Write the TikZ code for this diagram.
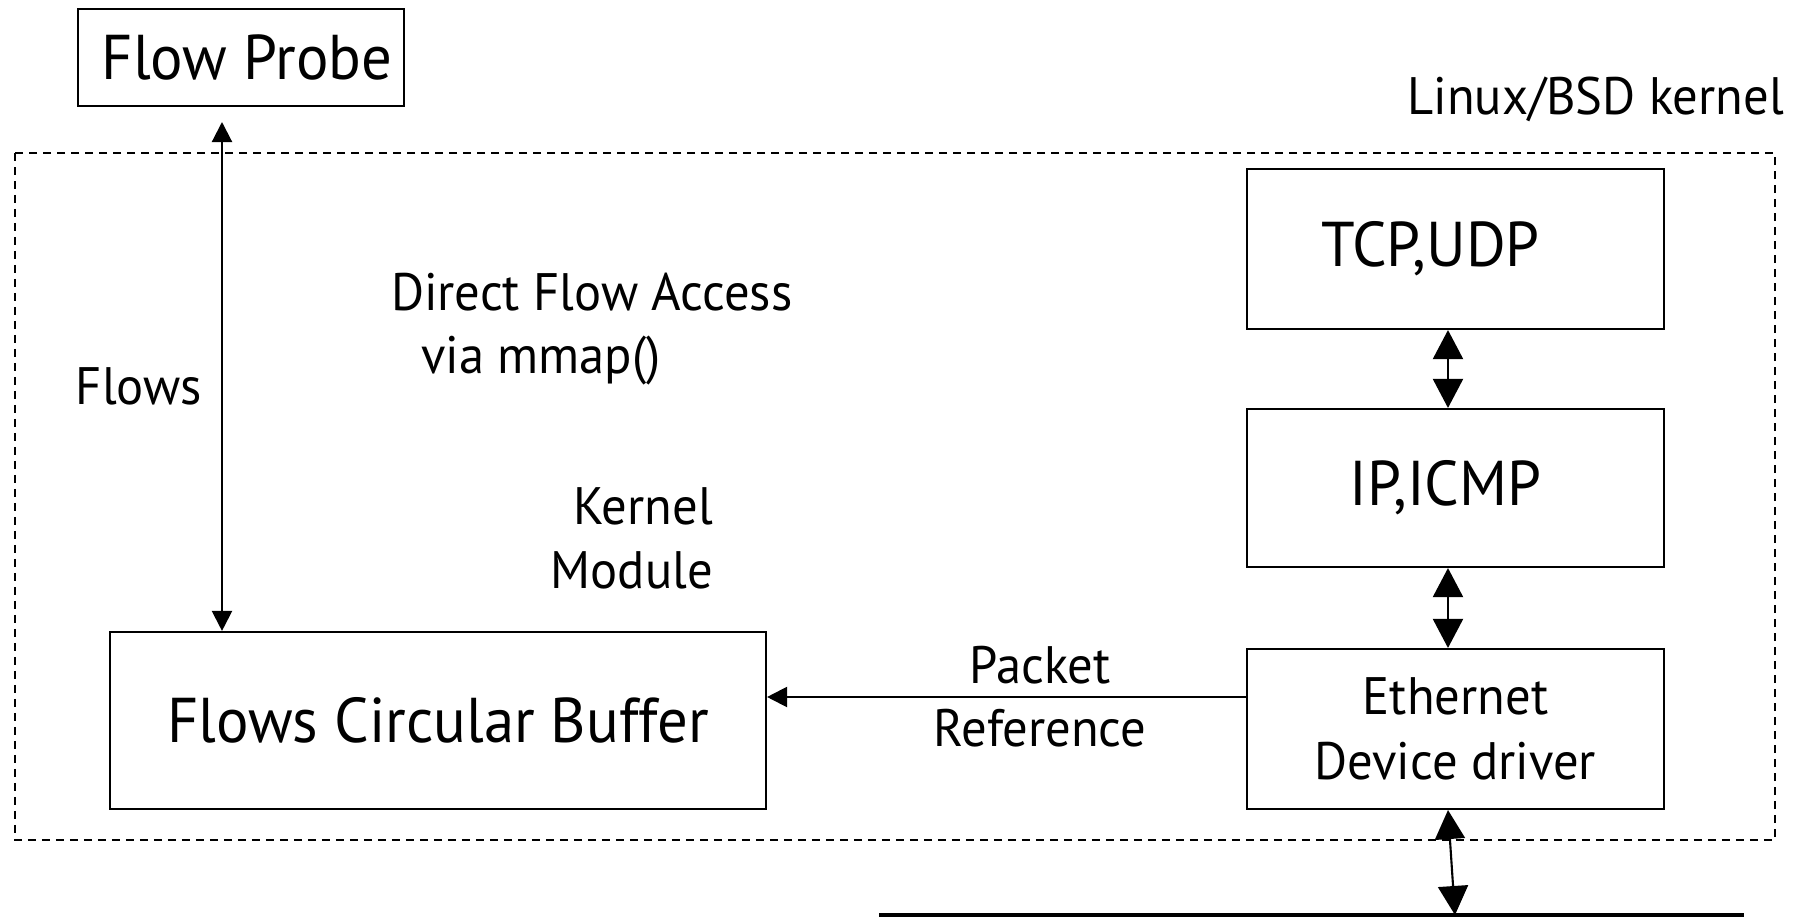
\documentclass[tikz,border=0pt]{standalone}
\usepackage{fontspec}
\setmainfont[FakeStretch=0.96]{PT Sans}
\usetikzlibrary{arrows.meta}

\tikzset{
  layer/.style={draw, line width=.6pt, minimum width=41.7mm, minimum height=16mm,
    font=\fontsize{18}{22}\selectfont},
  lbl/.style={inner sep=0pt, font=\fontsize{15}{18}\selectfont},
  big/.style={{Triangle[length=2.9mm,width=3mm]}-{Triangle[length=2.9mm,width=3mm]}},
}

\begin{document}
\begin{tikzpicture}[x=.1mm, y=-.1mm, >={Triangle[length=2mm,width=2mm]}, line width=.6pt]
\useasboundingbox (0,0) rectangle (1801,917);

\node[layer, minimum width=32.2mm, minimum height=9.7mm] (probe) at (241,57.5) {\hspace*{1.2mm}Flow Probe};
\node[layer, minimum width=65.6mm, minimum height=17.7mm] (buffer) at (438,720.5) {Flows Circular Buffer};
\node[layer] (tcp) at (1455.5,249) {TCP,UDP\hspace*{5mm}};
\node[layer, minimum height=15.8mm] (ip) at (1455.5,488) {IP,ICMP\hspace*{2mm}};
\node[layer, align=center, font=\fontsize{15}{18.3}\selectfont] (eth) at (1455.5,729) {Ethernet\\Device driver};

% kernel boundary
\draw[dash pattern=on .8mm off .6mm] (15,153) rectangle (1775,840);
\node[lbl, anchor=base east] (kernel) at (1785,115) {Linux/BSD kernel};

\node[lbl, anchor=base west] (access) at (390,310) {Direct Flow Access};
\node[lbl, anchor=base west] (mmap) at (420,373) {via mmap()};
\node[lbl, anchor=base east] (kmod) at (714,524) {Kernel};
\node[lbl, anchor=base east] (kmod2) at (714,588) {Module};

\coordinate (flowtop) at (222,122);
\draw[<->] (flowtop) -- (flowtop |- buffer.north) node[lbl, left=1.9mm, pos=.52] {Flows};

\foreach \a/\b in {tcp/ip, ip/eth}
{
    \draw[big] ([xshift=-.75mm]\a.south) -- ([xshift=-.75mm]\b.north);
}

\draw[->] ([yshift=3.2mm]eth.west) -- ([yshift=3.2mm]eth.west -| buffer.east)
    node[lbl, pos=.43, align=center] {Packet\\Reference};

% wire
\coordinate (wireL) at (879,915);
\coordinate (wireR) at (1744,915);
\coordinate (tap) at (1455,915);
\draw[line width=1.2pt] (wireL) -- (wireR);
\draw[big] ([xshift=-.75mm]eth.south) -- (tap);

\end{tikzpicture}
\end{document}
